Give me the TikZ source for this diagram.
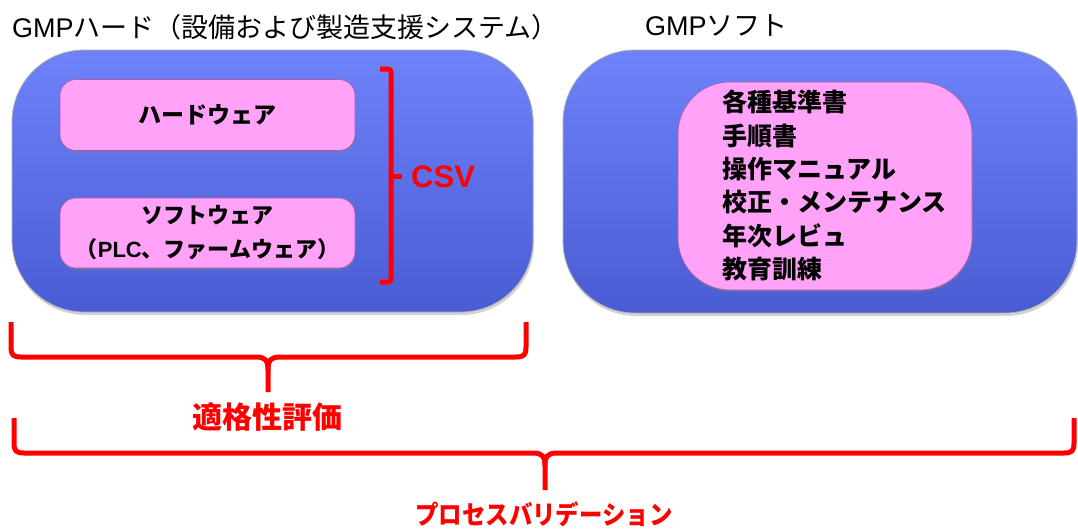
\documentclass[tikz,border=0pt]{standalone}
\usepackage{fontspec}
\setmainfont{Liberation Sans}
\newfontfamily\jp{Noto Sans CJK JP}
\usetikzlibrary{shadows}
\definecolor{bluetop}{RGB}{110,130,250}
\definecolor{bluebot}{RGB}{74,92,212}
\definecolor{pinkfill}{RGB}{255,162,248}
\definecolor{pinkedge}{RGB}{170,90,170}
\definecolor{redc}{RGB}{255,0,0}
\begin{document}
\begin{tikzpicture}[x=1pt,y=-1pt,
  bigbox/.style={rounded corners=72pt, top color=bluetop, bottom color=bluebot,
    draw=gray!60, line width=0.8pt,
    drop shadow={shadow xshift=1pt,shadow yshift=-3pt,opacity=0.35}},
  pinkbox/.style={fill=pinkfill, draw=pinkedge, line width=0.6pt,
    drop shadow={shadow xshift=0.5pt,shadow yshift=-2pt,opacity=0.4}},
  brace/.style={draw=redc, line width=5pt, line cap=butt, line join=round},
  redlabel/.style={text=redc, font=\jp\bfseries\fontsize{30}{32}\selectfont},
  title/.style={font=\fontsize{27}{30}\selectfont, inner sep=0pt},
  boxtext/.style={font=\jp\bfseries\fontsize{23}{33}\selectfont, align=center}
]
\useasboundingbox (0,0) rectangle (1078,528);

% titles
\node[title, anchor=west] (t1) at (12,27) {GMP{\jp ハード（設備および製造支援システム）}};
\node[title, anchor=west] (t2) at (645,25) {GMP{\jp ソフト}};

% big boxes
\node[bigbox, minimum width=521pt, minimum height=262pt] (hwbox) at (272.5,181) {};
\node[bigbox, minimum width=514pt, minimum height=263pt] (swbox) at (820,181.5) {};

% pink boxes left
\node[pinkbox, rounded corners=16pt, minimum width=295pt, minimum height=71pt, boxtext] (hw) at (207.5,115) {ハードウェア};
\node[pinkbox, rounded corners=16pt, minimum width=295pt, minimum height=70pt, boxtext, font=\jp\bfseries\fontsize{22}{34}\selectfont] (sw) at (207.5,233)
  {ソフトウェア\\（{\rmfamily\bfseries PLC}、ファームウェア）};

% pink box right
\node[pinkbox, rounded corners=52pt, minimum width=294pt, minimum height=208pt] (docs) at (825,186) {};
\node[anchor=north west, inner sep=0pt, font=\jp\bfseries\fontsize{25}{33.3}\selectfont, align=left] (doclist) at (722,90)
  {各種基準書\\手順書\\操作マニュアル\\校正・メンテナンス\\年次レビュ\\教育訓練};

% CSV bracket
\coordinate (c1) at (380,69);
\coordinate (c2) at (380,282);
\draw[brace, rounded corners=3pt] (c1) -- (391,69) -- (391,282) -- (c2);
\draw[brace] (391,176) -- (402,176);
\node[anchor=west, text=redc, font=\bfseries\fontsize{31}{32}\selectfont, inner sep=0pt] (csv) at (411,177) {CSV};

% qualification brace
\coordinate (q1) at (11,322);
\coordinate (q2) at (526,322);
\coordinate (qm) at (268,392);
\draw[brace] (q1) -- (11,347) .. controls (11,355) and (13,357) .. (21,357)
  -- (256,357) .. controls (265,357) and (268,360) .. (268,370) -- (qm);
\draw[brace] (q2) -- (526,347) .. controls (526,355) and (524,357) .. (516,357)
  -- (280,357) .. controls (271,357) and (268,360) .. (268,370);
\node[redlabel] (qual) at (267,417) {適格性評価};

% process validation brace
\coordinate (p1) at (14,418);
\coordinate (p2) at (1074,418);
\coordinate (pm) at (545,490);
\draw[brace] (p1) -- (14,443) .. controls (14,451) and (16,453) .. (24,453)
  -- (533,453) .. controls (542,453) and (545,456) .. (545,466) -- (pm);
\draw[brace] (p2) -- (1074,443) .. controls (1074,451) and (1072,453) .. (1064,453)
  -- (557,453) .. controls (548,453) and (545,456) .. (545,466);
\node[text=redc, font=\jp\bfseries\fontsize{26}{28}\selectfont, inner sep=0pt] (pv) at (544,514) {\scalebox{0.9}[1]{プロセスバリデーション}};
\end{tikzpicture}
\end{document}
